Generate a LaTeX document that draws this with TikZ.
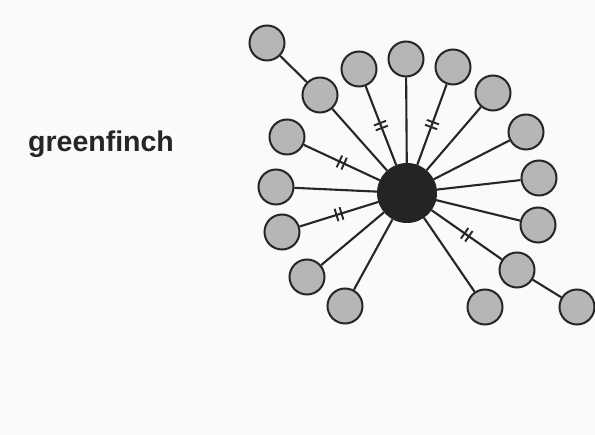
\documentclass[tikz,border=0pt]{standalone}
\usepackage{fontspec}
\setmainfont{Liberation Sans}
\usetikzlibrary{decorations.markings}
\definecolor{bgc}{RGB}{250,250,248}
\definecolor{ink}{RGB}{38,38,38}
\definecolor{disc}{RGB}{182,182,182}
\definecolor{hub}{RGB}{36,36,36}
\tikzset{
  x=1pt, y=-1pt,
  leaf/.style={circle, draw=ink, line width=2pt, fill=disc, minimum size=35pt, inner sep=0pt},
  hubnode/.style={circle, fill=hub, draw=hub, line width=1pt, minimum size=59pt, inner sep=0pt},
  spoke/.style={draw=ink, line width=2.1pt},
  ticked/.style={spoke, postaction={decorate, decoration={markings,
     mark=at position 0.5 with {\draw[ink, line width=1.9pt] (-2.6,-6.5) -- (-2.6,6.5); \draw[ink, line width=1.9pt] (2.6,-6.5) -- (2.6,6.5);}}}}
}
\begin{document}
\begin{tikzpicture}
\fill[bgc] (0,0) rectangle (595,435);
\useasboundingbox (0,0) rectangle (595,435);
\node[anchor=base west, text=ink, font=\fontsize{28.5}{32}\selectfont\bfseries, inner sep=0pt] (label) at (28,152) {greenfinch};
\node[hubnode] (c) at (407,193) {};
\node[leaf] (A) at (267,43) {};
\node[leaf] (B) at (320,95) {};
\node[leaf] (C) at (359,69) {};
\node[leaf] (D) at (406,59) {};
\node[leaf] (E) at (453,67) {};
\node[leaf] (F) at (493,93) {};
\node[leaf] (G) at (526,132) {};
\node[leaf] (H) at (539,178) {};
\node[leaf] (I) at (538,225) {};
\node[leaf] (J) at (517,270) {};
\node[leaf] (K) at (577,307) {};
\node[leaf] (L) at (485,307) {};
\node[leaf] (M) at (345,306) {};
\node[leaf] (N) at (307,277) {};
\node[leaf] (O) at (282,232) {};
\node[leaf] (P) at (276,187) {};
\node[leaf] (Q) at (287,137) {};
\draw[spoke] (A) -- (B);
\draw[spoke] (J) -- (K);
\draw[spoke] (B) -- (c);
\draw[ticked] (C) -- (c);
\draw[spoke] (D) -- (c);
\draw[ticked] (E) -- (c);
\draw[spoke] (F) -- (c);
\draw[spoke] (G) -- (c);
\draw[spoke] (H) -- (c);
\draw[spoke] (I) -- (c);
\draw[ticked] (J) -- (c);
\draw[spoke] (L) -- (c);
\draw[spoke] (M) -- (c);
\draw[spoke] (N) -- (c);
\draw[ticked] (O) -- (c);
\draw[spoke] (P) -- (c);
\draw[ticked] (Q) -- (c);
\end{tikzpicture}
\end{document}
